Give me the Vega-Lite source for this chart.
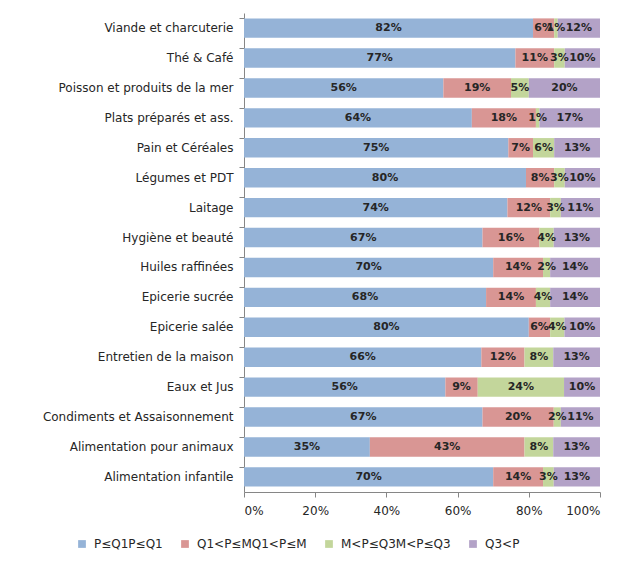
{
  "$schema": "https://vega.github.io/schema/vega-lite/v6.json",
  "autosize": {"type": "none"},
  "width": 356,
  "height": 479,
  "padding": {"left": 244, "top": 13, "right": 28, "bottom": 86},
  "background": "white",
  "config": {
    "font": "DejaVu Sans",
    "view": {"stroke": null},
    "axis": {"domainColor": "#868686", "tickColor": "#868686", "labelColor": "#262626", "labelFontSize": 12, "grid": false, "title": null, "labelLimit": 400}
  },
  "data": {
    "values": [
      {"cat": "Viande et charcuterie", "P≤Q1P≤Q1": 82, "Q1<P≤MQ1<P≤M": 6, "M<P≤Q3M<P≤Q3": 1, "Q3<P": 12},
      {"cat": "Thé & Café", "P≤Q1P≤Q1": 77, "Q1<P≤MQ1<P≤M": 11, "M<P≤Q3M<P≤Q3": 3, "Q3<P": 10},
      {"cat": "Poisson et produits de la mer", "P≤Q1P≤Q1": 56, "Q1<P≤MQ1<P≤M": 19, "M<P≤Q3M<P≤Q3": 5, "Q3<P": 20},
      {"cat": "Plats préparés et ass.", "P≤Q1P≤Q1": 64, "Q1<P≤MQ1<P≤M": 18, "M<P≤Q3M<P≤Q3": 1, "Q3<P": 17},
      {"cat": "Pain et Céréales", "P≤Q1P≤Q1": 75, "Q1<P≤MQ1<P≤M": 7, "M<P≤Q3M<P≤Q3": 6, "Q3<P": 13},
      {"cat": "Légumes et PDT", "P≤Q1P≤Q1": 80, "Q1<P≤MQ1<P≤M": 8, "M<P≤Q3M<P≤Q3": 3, "Q3<P": 10},
      {"cat": "Laitage", "P≤Q1P≤Q1": 74, "Q1<P≤MQ1<P≤M": 12, "M<P≤Q3M<P≤Q3": 3, "Q3<P": 11},
      {"cat": "Hygiène et beauté", "P≤Q1P≤Q1": 67, "Q1<P≤MQ1<P≤M": 16, "M<P≤Q3M<P≤Q3": 4, "Q3<P": 13},
      {"cat": "Huiles raffinées", "P≤Q1P≤Q1": 70, "Q1<P≤MQ1<P≤M": 14, "M<P≤Q3M<P≤Q3": 2, "Q3<P": 14},
      {"cat": "Epicerie sucrée", "P≤Q1P≤Q1": 68, "Q1<P≤MQ1<P≤M": 14, "M<P≤Q3M<P≤Q3": 4, "Q3<P": 14},
      {"cat": "Epicerie salée", "P≤Q1P≤Q1": 80, "Q1<P≤MQ1<P≤M": 6, "M<P≤Q3M<P≤Q3": 4, "Q3<P": 10},
      {"cat": "Entretien de la maison", "P≤Q1P≤Q1": 66, "Q1<P≤MQ1<P≤M": 12, "M<P≤Q3M<P≤Q3": 8, "Q3<P": 13},
      {"cat": "Eaux et Jus", "P≤Q1P≤Q1": 56, "Q1<P≤MQ1<P≤M": 9, "M<P≤Q3M<P≤Q3": 24, "Q3<P": 10},
      {"cat": "Condiments et Assaisonnement", "P≤Q1P≤Q1": 67, "Q1<P≤MQ1<P≤M": 20, "M<P≤Q3M<P≤Q3": 2, "Q3<P": 11},
      {"cat": "Alimentation pour animaux", "P≤Q1P≤Q1": 35, "Q1<P≤MQ1<P≤M": 43, "M<P≤Q3M<P≤Q3": 8, "Q3<P": 13},
      {"cat": "Alimentation infantile", "P≤Q1P≤Q1": 70, "Q1<P≤MQ1<P≤M": 14, "M<P≤Q3M<P≤Q3": 3, "Q3<P": 13}
    ]
  },
  "transform": [
    {"window": [{"op": "row_number", "as": "row"}]},
    {"fold": ["P≤Q1P≤Q1", "Q1<P≤MQ1<P≤M", "M<P≤Q3M<P≤Q3", "Q3<P"], "as": ["series", "value"]},
    {"window": [{"op": "row_number", "as": "idx"}], "groupby": ["cat"]},
    {"joinaggregate": [{"op": "sum", "field": "value", "as": "total"}], "groupby": ["cat"]},
    {"window": [{"op": "sum", "field": "value", "as": "cum"}], "groupby": ["cat"], "sort": [{"field": "idx"}], "frame": [null, 0]},
    {"calculate": "(datum.cum - datum.value / 2) / datum.total", "as": "mid"}
  ],
  "encoding": {
    "y": {
      "field": "cat", "type": "nominal",
      "sort": {"field": "row", "op": "min"},
      "scale": {"paddingInner": 0.35, "paddingOuter": 0.18},
      "axis": {"bandPosition": 0, "tickSize": 5, "labelPadding": 6, "labelFontSize": 12, "labelLimit": 400}
    }
  },
  "layer": [
    {
      "mark": {"type": "bar"},
      "encoding": {
        "x": {
          "field": "value", "type": "quantitative", "stack": "normalize",
          "scale": {"domain": [0, 1], "nice": false},
          "axis": {"format": ".0%", "values": [0, 0.2, 0.4, 0.6, 0.8, 1], "tickSize": 5, "labelPadding": 8, "labelFontSize": 12}
        },
        "color": {
          "field": "series", "type": "nominal",
          "scale": {
            "domain": ["P≤Q1P≤Q1", "Q1<P≤MQ1<P≤M", "M<P≤Q3M<P≤Q3", "Q3<P"],
            "range": ["#95B3D7", "#D99694", "#C3D69B", "#B3A2C7"]
          },
          "legend": {
            "title": null, "orient": "none", "direction": "horizontal",
            "legendX": -168, "legendY": 525,
            "symbolType": "square", "symbolSize": 60, "symbolStrokeWidth": 0,
            "labelFontSize": 12, "labelColor": "#262626", "columnPadding": 16, "labelOffset": 6
          }
        },
        "order": {"field": "idx", "type": "quantitative"}
      }
    },
    {
      "mark": {"type": "text", "fontSize": 11, "fontWeight": "bold", "color": "#262626", "text": {"expr": "datum.value + '%'"}},
      "encoding": {
        "x": {"field": "mid", "type": "quantitative"},
        "detail": {"field": "series"}
      }
    }
  ]
}
